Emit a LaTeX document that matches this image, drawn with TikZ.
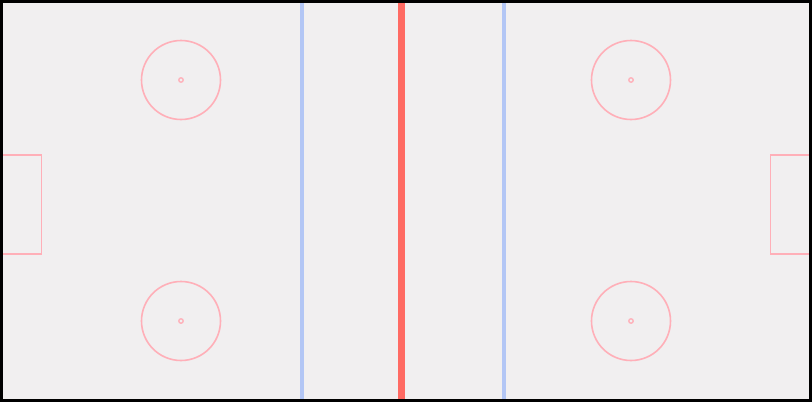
\documentclass[tikz,border=0pt]{standalone}
\definecolor{ice}{HTML}{F1EFF0}
\definecolor{rinkred}{HTML}{FF6A63}
\definecolor{rinkblue}{HTML}{B3C6F5}
\definecolor{rinkpink}{HTML}{FFAFB8}
\tikzset{
  faceoff/.style={circle, draw=rinkpink, line width=1.6pt, minimum size=79pt, inner sep=0pt},
  fodot/.style={circle, draw=rinkpink, line width=1.3pt, minimum size=4.5pt, inner sep=0pt},
  crease/.style={draw=rinkpink, line width=1.6pt},
  blueline/.style={draw=rinkblue, line width=3.5pt},
  redline/.style={draw=rinkred, line width=7.5pt}
}
\begin{document}
\begin{tikzpicture}[x=1pt,y=-1pt]
\useasboundingbox (0,0) rectangle (812,402);
\fill[ice] (0,0) rectangle (812,402);
% blue and red lines
\coordinate (b1t) at (302,2); \coordinate (b1b) at (302,400);
\coordinate (b2t) at (504,2); \coordinate (b2b) at (504,400);
\coordinate (rt) at (401.5,2); \coordinate (rb) at (401.5,400);
\draw[blueline] (b1t) -- (b1b);
\draw[blueline] (b2t) -- (b2b);
\draw[redline] (rt) -- (rb);
% faceoff circles
\node[faceoff] (c1) at (181,80) {};
\node[faceoff] (c2) at (631,80) {};
\node[faceoff] (c3) at (181,321) {};
\node[faceoff] (c4) at (631,321) {};
\node[fodot] (d1) at (181,80) {};
\node[fodot] (d2) at (631,80) {};
\node[fodot] (d3) at (181,321) {};
\node[fodot] (d4) at (631,321) {};
% creases
\draw[crease] (1,155) -- (41.5,155) -- (41.5,254) -- (1,254);
\draw[crease] (811,155) -- (770.5,155) -- (770.5,254) -- (811,254);
% boards
\draw[black, line width=3pt] (1.5,1.5) rectangle (810.5,400.5);
\end{tikzpicture}
\end{document}
